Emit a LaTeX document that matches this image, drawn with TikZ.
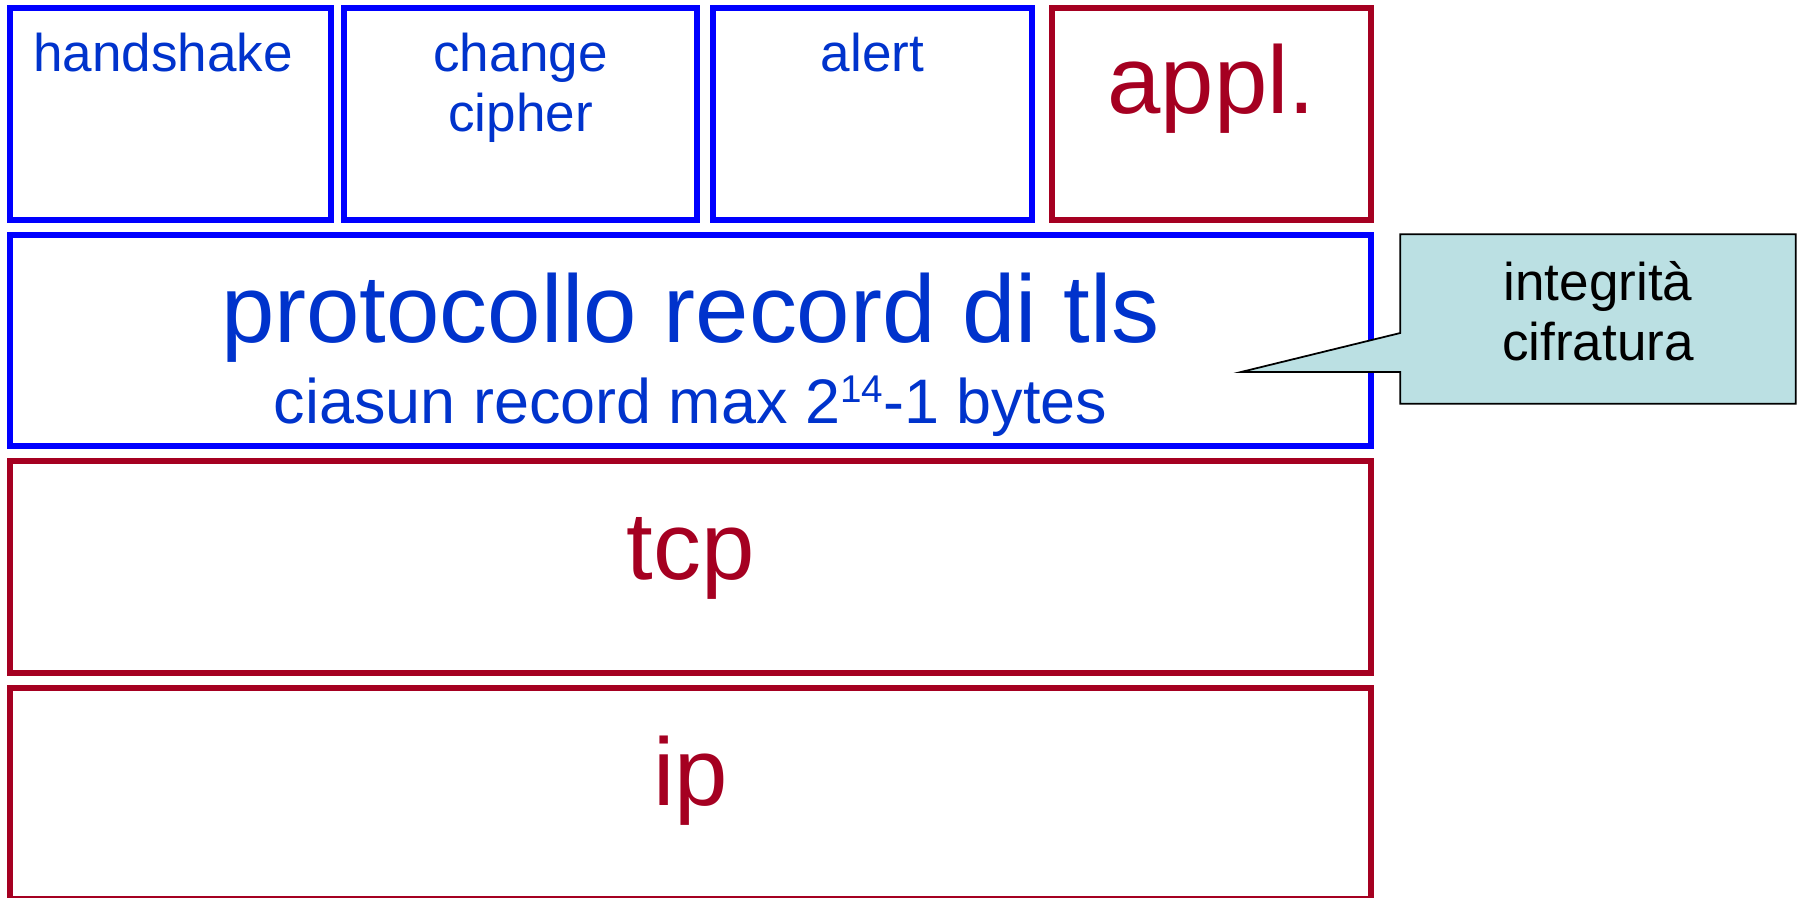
\documentclass[tikz,border=0pt]{standalone}
\usepackage{fontspec}
\setmainfont{Liberation Sans}
\usetikzlibrary{positioning}
\definecolor{tlsblue}{RGB}{0,0,255}
\definecolor{tlstext}{RGB}{0,51,204}
\definecolor{netred}{RGB}{165,0,33}
\definecolor{notefill}{RGB}{187,224,227}

\tikzset{
	layerbox/.style={draw, line width=1.6pt, inner sep=0pt, minimum height=2.12cm},
	tlsbox/.style={layerbox, tlsblue},
	netbox/.style={layerbox, netred},
	small/.style={anchor=base, align=center, text=tlstext, font=\fontsize{15.1}{17.1}\selectfont},
	big/.style={anchor=base, font=\fontsize{27.3}{30}\selectfont},
}

\begin{document}
\begin{tikzpicture}
	\useasboundingbox (0, 0) rectangle (18.04, -8.98);
	% boxes
	\node [tlsbox, minimum width=3.21cm] (hs) at (1.705, -1.14) {};
	\node [tlsbox, minimum width=3.53cm] (cc) at (5.205, -1.14) {};
	\node [tlsbox, minimum width=3.19cm] (al) at (8.725, -1.14) {};
	\node [netbox, minimum width=3.19cm] (ap) at (12.115, -1.14) {};
	\node [tlsbox, minimum width=13.61cm, minimum height=2.11cm] (rec) at (6.905, -3.405) {};
	\node [netbox, minimum width=13.61cm] (tcp) at (6.905, -5.67) {};
	\node [netbox, minimum width=13.61cm, minimum height=2.11cm] (ip) at (6.905, -7.935) {};
	% labels (base of a two-line label is its last line)
	\node [small] (hslabel) at (1.63, -0.72) {handshake};
	\node [small] (cclabel) at (5.205, -1.32) {change\\cipher};
	\node [small] (allabel) at (8.725, -0.72) {alert};
	\node [big, text=netred] (aplabel) at (12.115, -1.14) {appl.};
	\node [big, text=tlstext] (reclabel) at (6.905, -3.42) {protocollo record di tls};
	\node [anchor=base, text=tlstext, font=\fontsize{17.9}{20}\selectfont] (maxlabel) at (6.905, -4.23)
		{ciasun record max 2\raisebox{0.33em}{\fontsize{11}{11}\selectfont 14}-1 bytes};
	\node [big, text=netred] (tcplabel) at (6.905, -5.79) {tcp};
	\node [big, text=netred] (iplabel) at (6.905, -8.05) {ip};
	% callout
	\node [inner sep=0pt, minimum width=3.94cm, minimum height=1.68cm] (note) at (15.98, -3.19) {};
	\coordinate (tip) at (12.41, -3.72);
	\draw [line width=0.5pt, fill=notefill] (note.north west) -- (note.north east) -- (note.south east) -- (note.south west)
		-- (note.west |- tip) -- (tip) -- (note.west |- 0, -3.33) -- cycle;
	\node [anchor=base, align=center, font=\fontsize{15.1}{16.8}\selectfont] (notelabel) at (15.98, -3.60) {integrità\\cifratura};
\end{tikzpicture}
\end{document}
